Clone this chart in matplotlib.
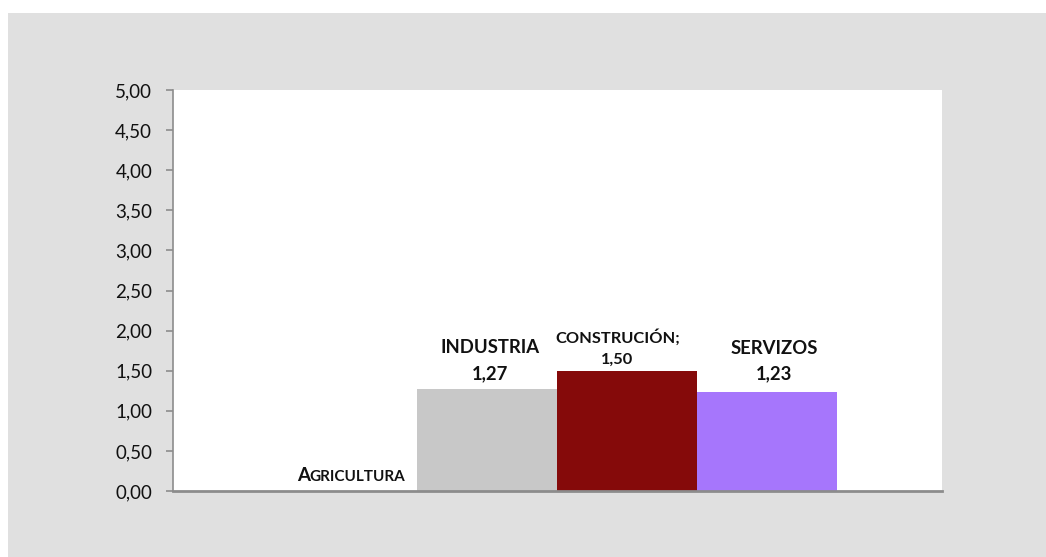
import matplotlib
matplotlib.use('Agg')
import matplotlib.pyplot as plt
from matplotlib.patches import Rectangle
from matplotlib.offsetbox import TextArea, HPacker, AnnotationBbox
import numpy as np

# data
sectors = ['AGRICULTURA', 'INDUSTRIA', 'CONSTRUCIÓN', 'SERVIZOS']
values = [0.0, 1.27, 1.50, 1.23]
bar_colors = ['#c8c8c8', '#c8c8c8', '#850a0a', '#a676fc']
yticks = [0.0, 0.5, 1.0, 1.5, 2.0, 2.5, 3.0, 3.5, 4.0, 4.5, 5.0]

plt.rcParams['font.family'] = ['Lato', 'DejaVu Sans']
txt = '#111111'

W, H = 1046, 557
fig = plt.figure(figsize=(W / 100, H / 100), dpi=100)
fig.patch.set_facecolor('white')

# gray chart area, leaving a thin white strip on top and left
bg = Rectangle((8 / W, 0), 1 - 8 / W, 1 - 13 / H, transform=fig.transFigure,
               facecolor='#e0e0e0', edgecolor='none', zorder=-10)
fig.add_artist(bg)

left, right, top, bottom = 173, 942, 90, 491
ax = fig.add_axes([left / W, (H - bottom) / H, (right - left) / W, (bottom - top) / H])
ax.set_facecolor('white')
ax.set_zorder(1)

x = np.arange(len(sectors))
ax.bar(x, values, width=1.0, color=bar_colors, edgecolor='none', zorder=2)

ax.set_xlim(-1.243, 4.25)
ax.set_ylim(0, 5)
ax.set_yticks(yticks)
ax.set_yticklabels([f'{v:.2f}'.replace('.', ',') for v in yticks], fontsize=13.5, color=txt)
ax.set_xticks([])

for s in ['top', 'right']:
    ax.spines[s].set_visible(False)
ax.spines['left'].set_color('#8c8c8c')
ax.spines['left'].set_linewidth(1.2)
ax.spines['bottom'].set_color('#8c8c8c')
ax.spines['bottom'].set_linewidth(2)
ax.tick_params(axis='y', direction='out', length=5, width=1.2, color='#8c8c8c', pad=10)

# data labels
ax.annotate('INDUSTRIA\n1,27', (x[1], values[1]), xytext=(2, 5), textcoords='offset points',
            ha='center', va='bottom', fontsize=13.3, fontweight='bold', linespacing=1.65,
            color=txt)
ax.annotate('CONSTRUCIÓN;\n1,50', (x[2], values[2]), xytext=(-7, 3), textcoords='offset points',
            ha='center', va='bottom', fontsize=11.8, fontweight='bold', linespacing=1.65,
            color=txt)
ax.annotate('SERVIZOS\n1,23', (x[3], values[3]), xytext=(5, 7), textcoords='offset points',
            ha='center', va='bottom', fontsize=13.3, fontweight='bold', linespacing=1.65,
            color=txt)

# small caps style label for the zero bar
first = TextArea('A', textprops=dict(fontsize=13.5, fontweight='bold', color=txt,
                                     family=['Lato', 'DejaVu Sans']))
rest = TextArea('GRICULTURA', textprops=dict(fontsize=11, fontweight='bold', color=txt,
                                            family=['Lato', 'DejaVu Sans']))
pack = HPacker(children=[first, rest], align='baseline', pad=0, sep=0)
ab = AnnotationBbox(pack, (x[0], values[0]), xybox=(3, 5), boxcoords='offset points',
                    box_alignment=(0.5, 0), frameon=False, annotation_clip=False)
ax.add_artist(ab)

fig.savefig('out.png', dpi=100, facecolor=fig.get_facecolor())
